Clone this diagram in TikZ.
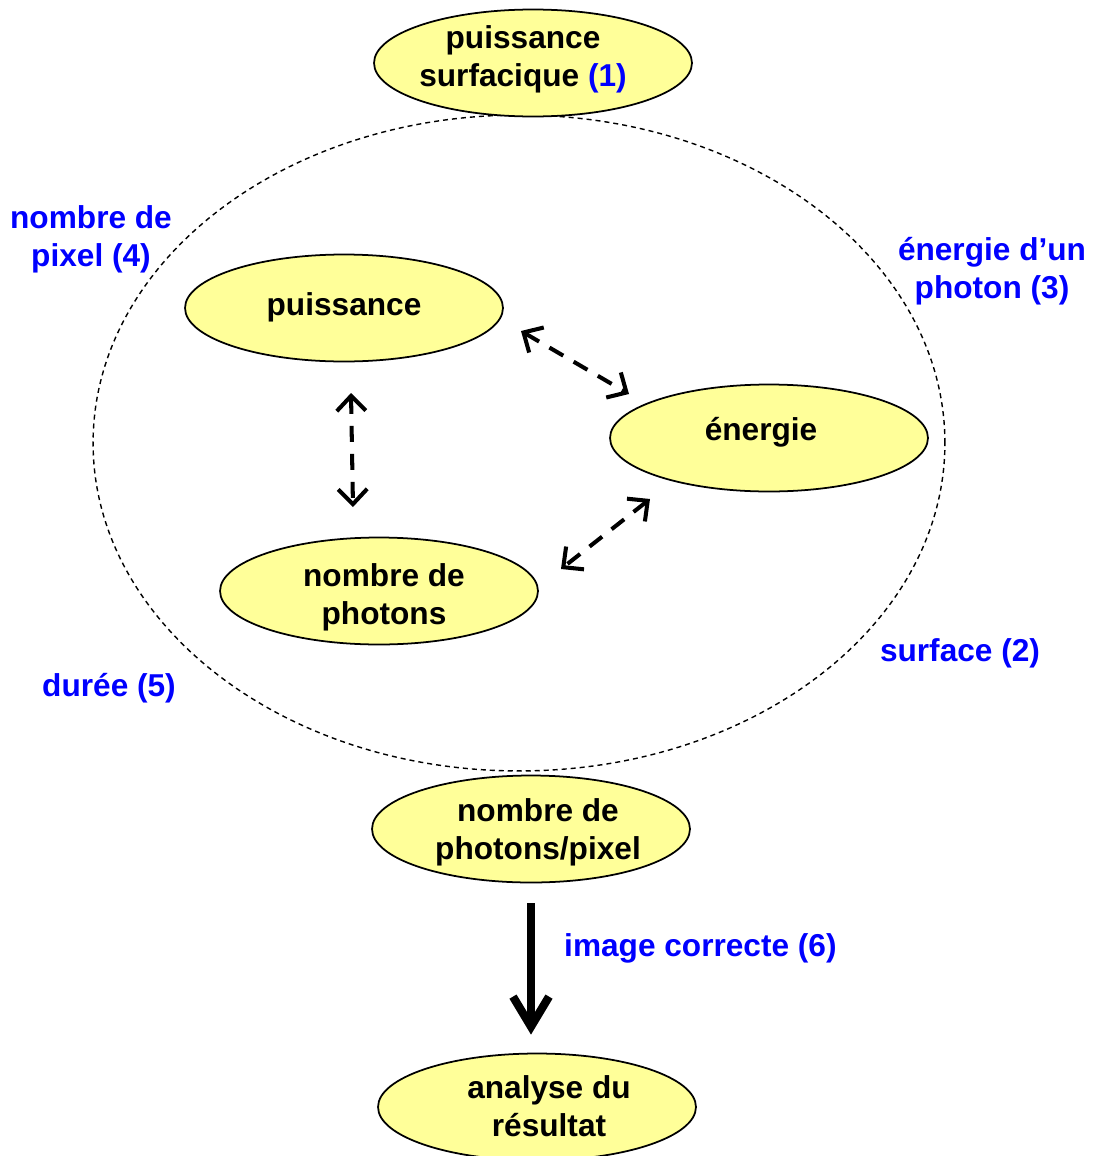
\documentclass[tikz,border=0pt]{standalone}
\usepackage{fontspec}
\setmainfont{Liberation Sans}
\usetikzlibrary{shapes.geometric,arrows.meta,calc}
\definecolor{jaune}{RGB}{255,255,153}
\definecolor{bleu}{RGB}{0,0,255}
\newcommand{\grand}{\bfseries\fontsize{18}{21.5}\selectfont}
% une bulle jaune et son texte, un peu decale
\newcommand{\bulle}[4]{
	\node [bulle] (#1) at (#2) {};
	\node [texte] (#1-t) at ($(#1)+(#3)$) {#4};
	}

\begin{document}
\begin{tikzpicture}[x=0.02cm,y=-0.02cm,
	bulle/.style={ellipse, draw=black, line width=1pt, fill=jaune,
		minimum width=6.36cm, minimum height=2.14cm, inner sep=0pt},
	texte/.style={align=center, inner sep=0pt, font=\grand},
	etiq/.style={text=bleu, align=center, font=\grand},
	lien/.style={line width=2.3pt, dash pattern=on 0.32cm off 0.24cm,
		{Straight Barb[length=0.3cm,width=0.58cm]}-{Straight Barb[length=0.3cm,width=0.58cm]}}]
	\useasboundingbox (0,0) rectangle (1093,1156);
	% grande ellipse en pointilles
	\draw [line width=0.8pt, dash pattern=on 0.1cm off 0.08cm] (519,443) ellipse [x radius=8.52cm, y radius=6.56cm];
	% les bulles
	\bulle{surfacique}{533,63}{-10,-4}{puissance\\surfacique \textcolor{bleu}{(1)}}
	\bulle{puissance}{344,308}{0,-1}{puissance}
	\bulle{energie}{769,438}{-8,-6}{énergie}
	\bulle{photons}{379,591}{5,6}{nombre de\\photons}
	\bulle{parpixel}{531,829}{7,3}{nombre de\\photons/pixel}
	\bulle{analyse}{537,1107}{12,-1}{analyse du\\résultat}
	% les etiquettes
	\node [etiq] (pixel) at (91,239) {nombre de\\pixel (4)};
	\node [etiq] (photon) at (992,271) {énergie d’un\\photon (3)};
	\node [etiq] (surface) at (960,653) {surface (2)};
	\node [etiq] (duree) at (109,688) {durée (5)};
	\node [etiq, anchor=west] (correcte) at (558,948) {image correcte (6)};
	% les fleches
	\coordinate (p1) at (521,331);
	\coordinate (e1) at (629,394);
	\coordinate (p2) at (351,393);
	\coordinate (n2) at (353,507);
	\coordinate (e3) at (650,499);
	\coordinate (n3) at (561,569);
	\draw [lien] (p1) -- (e1);
	\draw [lien] (p2) -- (n2);
	\draw [lien] (e3) -- (n3);
	\draw [line width=4.7pt, shorten <=0.4cm, shorten >=0.36cm,
		-{Straight Barb[length=0.6cm,width=0.72cm]}] (parpixel.south) -- (parpixel.south |- analyse.north);
\end{tikzpicture}
\end{document}
